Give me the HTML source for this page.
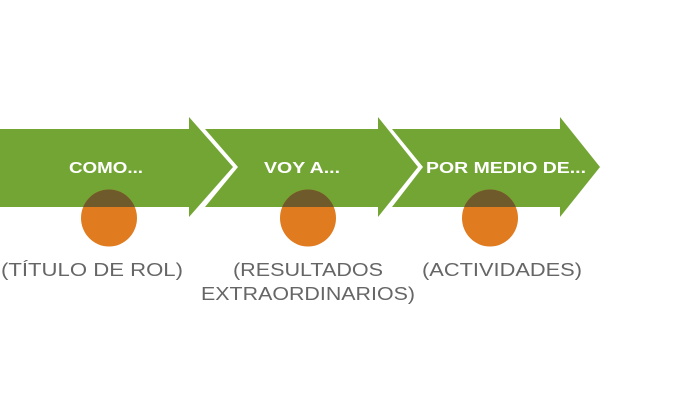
<!DOCTYPE html>
<html><head><meta charset="utf-8"><style>
html,body{margin:0;padding:0;background:#fff;}
body{width:700px;height:401px;overflow:hidden;}
</style></head><body>
<svg width="700" height="401" viewBox="0 0 700 401" xmlns="http://www.w3.org/2000/svg">
<defs>
<clipPath id="ac"><polygon points="0,129 189,129 189,117 233,167 189,217 189,207 0,207"/><polygon points="205,129 378,129 378,117 418,167 378,217 378,207 205,207 238,167"/><polygon points="392,129 560,129 560,117 600,167 560,217 560,207 392,207 423,167"/></clipPath>
</defs>
<g fill="#73a535">
<polygon points="0,129 189,129 189,117 233,167 189,217 189,207 0,207"/>
<polygon points="205,129 378,129 378,117 418,167 378,217 378,207 205,207 238,167"/>
<polygon points="392,129 560,129 560,117 600,167 560,217 560,207 392,207 423,167"/>
</g>
<g fill="#e07b20">
<ellipse cx="109" cy="218" rx="28" ry="28.5"/>
<ellipse cx="308" cy="218" rx="28" ry="28.5"/>
<ellipse cx="490" cy="218" rx="28" ry="28.5"/>
</g>
<g fill="#6e5a2b" clip-path="url(#ac)">
<ellipse cx="109" cy="218" rx="28" ry="28.5"/>
<ellipse cx="308" cy="218" rx="28" ry="28.5"/>
<ellipse cx="490" cy="218" rx="28" ry="28.5"/>
</g>
<g font-family="Liberation Sans, sans-serif" font-weight="bold" font-size="16" fill="#fff" lengthAdjust="spacingAndGlyphs">
<text x="69" y="173" textLength="74" lengthAdjust="spacingAndGlyphs">COMO...</text>
<text x="264" y="173" textLength="76" lengthAdjust="spacingAndGlyphs">VOY A...</text>
<text x="426" y="173" textLength="160" lengthAdjust="spacingAndGlyphs">POR MEDIO DE...</text>
</g>
<g font-family="Liberation Sans, sans-serif" font-size="18" fill="#666">
<text x="1" y="276" textLength="182" lengthAdjust="spacingAndGlyphs">(TÍTULO DE ROL)</text>
<text x="233" y="276" textLength="150" lengthAdjust="spacingAndGlyphs">(RESULTADOS</text>
<text x="201" y="300" textLength="214" lengthAdjust="spacingAndGlyphs">EXTRAORDINARIOS)</text>
<text x="422" y="276" textLength="160" lengthAdjust="spacingAndGlyphs">(ACTIVIDADES)</text>
</g>
</svg>
</body></html>
